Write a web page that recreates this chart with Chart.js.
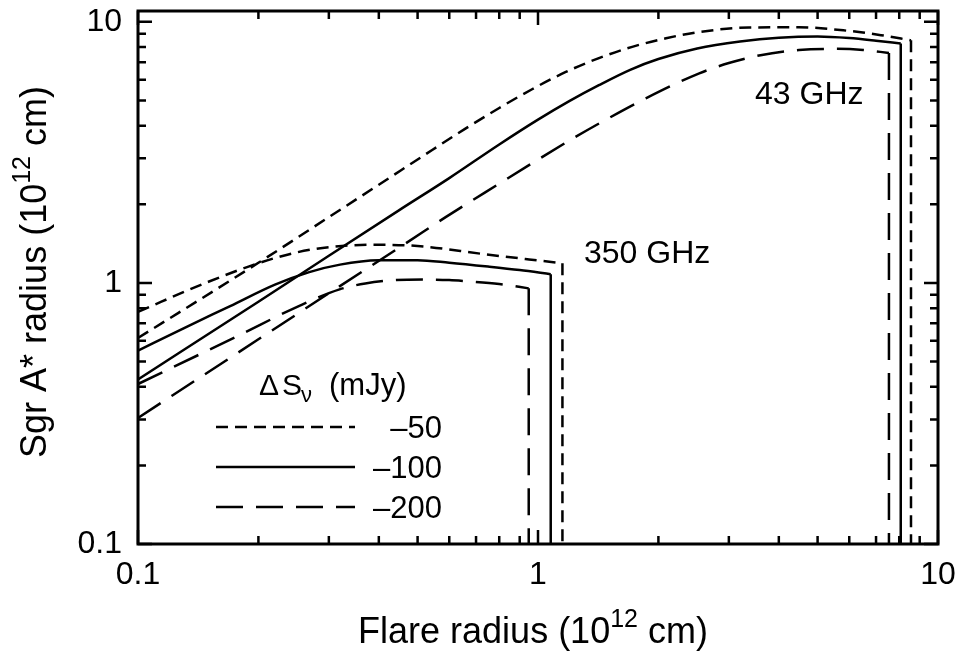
<!DOCTYPE html>
<html><head><meta charset="utf-8">
<script src="https://cdn.jsdelivr.net/npm/chart.js@4"></script>
<style>html,body{margin:0;padding:0;background:#fff}</style>
</head><body>
<canvas id="c" width="958" height="654"></canvas>
<script>
// ---- tick labels ----
const xTickValues = [0.1, 1, 10];
const xTickLabels = ['0.1', '1', '10'];
const yTickValues = [0.1, 1, 10];
const yTickLabels = ['0.1', '1', '10'];
const minorTickValues = [0.2,0.3,0.4,0.5,0.6,0.7,0.8,0.9,2,3,4,5,6,7,8,9];

// ---- legend ----
const seriesNames = ['\u201350', '\u2013100', '\u2013200'];
const legendTitle = ['\u0394', 'S', '\u03bd', '(mJy)'];
const freqLabels = ['43 GHz', '350 GHz'];

// ---- 43 GHz curves ----
const x43a = [0.1, 0.2, 0.3, 0.4, 0.545, 0.66, 0.8, 0.969, 1.17, 1.42, 1.72, 2.09, 2.53, 3.37, 4.49, 5.98, 7.2, 8.56];
const y43a = [0.615, 1.194, 1.786, 2.377, 3.236, 3.908, 4.677, 5.53, 6.41, 7.26, 8.02, 8.65, 9.14, 9.51, 9.53, 9.23, 8.89, 8.49];
const x43b = [0.1, 0.2, 0.3, 0.45, 0.6, 0.8, 1.0, 1.2, 1.42, 1.7, 2.0, 2.5, 3.2, 4.0, 5.0, 6.0, 7.0, 8.07];
const y43b = [0.427, 0.847, 1.27, 1.90, 2.52, 3.39, 4.22, 4.98, 5.72, 6.55, 7.2, 7.90, 8.40, 8.69, 8.79, 8.67, 8.47, 8.26];
const x43c = [0.1, 0.2, 0.319, 0.468, 0.589, 0.8, 1.026, 1.24, 1.5, 1.86, 2.53, 3.0, 3.6, 4.49, 5.5, 6.5, 7.54];
const y43c = [0.304, 0.608, 0.97, 1.42, 1.79, 2.40, 3.04, 3.62, 4.27, 5.09, 6.35, 6.95, 7.45, 7.80, 7.88, 7.80, 7.60];

// ---- 350 GHz curves ----
const x350a = [0.1, 0.15, 0.2, 0.25, 0.3, 0.38, 0.5, 0.73, 0.95, 1.151];
const y350a = [0.775, 1.01, 1.19, 1.31, 1.37, 1.40, 1.385, 1.29, 1.23, 1.19];
const x350b = [0.1, 0.13, 0.17, 0.22, 0.268, 0.32, 0.4, 0.5, 0.6, 0.75, 0.9, 1.076];
const y350b = [0.55, 0.67, 0.815, 0.985, 1.10, 1.175, 1.22, 1.222, 1.195, 1.155, 1.12, 1.08];
const x350c = [0.1, 0.179, 0.25, 0.319, 0.37, 0.44, 0.52, 0.6, 0.66, 0.8, 0.948];
const y350c = [0.41, 0.63, 0.81, 0.945, 0.995, 1.025, 1.03, 1.025, 1.015, 0.99, 0.953];

const yFloor = 0.1;

const dashes = [[12, 7], [], [27, 13]];
const FONT = "'Liberation Sans', Arial, Helvetica, sans-serif";

function pts(xs, ys) { return xs.map((x, i) => ({x: x, y: ys[i]})); }
function dropPts(xs, ys) { const n = xs.length - 1; return [{x: xs[n], y: ys[n]}, {x: xs[n], y: yFloor}]; }

const curves = [
  [x43a, y43a, 0], [x43b, y43b, 1], [x43c, y43c, 2],
  [x350a, y350a, 0], [x350b, y350b, 1], [x350c, y350c, 2]
];
const datasets = [];
curves.forEach(([xs, ys, k]) => {
  datasets.push({label: seriesNames[k], data: pts(xs, ys), borderColor: '#000', borderWidth: 2.5,
    borderDash: dashes[k], pointRadius: 0, showLine: true, fill: false, cubicInterpolationMode: 'monotone'});
  datasets.push({label: seriesNames[k], data: dropPts(xs, ys), borderColor: '#000', borderWidth: 2.5,
    borderDash: dashes[k], pointRadius: 0, showLine: true, fill: false, tension: 0});
});

function noPad(s) { s.paddingLeft = 0; s.paddingRight = 0; s.paddingTop = 0; s.paddingBottom = 0; }

const decor = {
  id: 'decor',
  afterDraw(chart) {
    const ctx = chart.ctx, a = chart.chartArea, xs = chart.scales.x, ys = chart.scales.y;
    ctx.save();
    ctx.strokeStyle = '#000';
    ctx.setLineDash([]);
    ctx.lineWidth = 2.5;
    const drawX = (v, len) => { const p = xs.getPixelForValue(v);
      ctx.beginPath(); ctx.moveTo(p, a.bottom); ctx.lineTo(p, a.bottom - len);
      ctx.moveTo(p, a.top); ctx.lineTo(p, a.top + len); ctx.stroke(); };
    const drawY = (v, len) => { const p = ys.getPixelForValue(v);
      ctx.beginPath(); ctx.moveTo(a.left, p); ctx.lineTo(a.left + len, p);
      ctx.moveTo(a.right, p); ctx.lineTo(a.right - len, p); ctx.stroke(); };
    xTickValues.forEach(v => drawX(v, 14));
    minorTickValues.forEach(v => drawX(v, 8));
    yTickValues.forEach(v => drawY(v, 14));
    minorTickValues.forEach(v => drawY(v, 8));
    ctx.lineWidth = 3;
    ctx.strokeRect(a.left, a.top, a.right - a.left, a.bottom - a.top);

    ctx.fillStyle = '#000';
    ctx.textBaseline = 'alphabetic';
    ctx.textAlign = 'left';
    ctx.font = '32px ' + FONT;
    ctx.fillText(freqLabels[0], 755, 104);
    ctx.fillText(freqLabels[1], 584, 263);

    // legend
    ctx.font = '30px ' + FONT;
    ctx.fillText(legendTitle[0], 259, 395);
    ctx.fillText(legendTitle[1], 282, 395);
    ctx.font = '22px ' + FONT;
    ctx.fillText(legendTitle[2], 301, 402);
    ctx.font = '31px ' + FONT;
    ctx.fillText(legendTitle[3], 329, 395);
    const rows = [427, 467, 507];
    rows.forEach((ry, k) => {
      ctx.lineWidth = 2.5;
      ctx.setLineDash(dashes[k]);
      ctx.beginPath(); ctx.moveTo(216, ry); ctx.lineTo(355, ry); ctx.stroke();
      ctx.setLineDash([]);
      ctx.font = '31px ' + FONT;
      ctx.textAlign = 'right';
      ctx.fillText(seriesNames[k], 442, ry + 11);
    });
    ctx.textAlign = 'left';

    const parts = (main) => [[main + ' (10', 36, 0], ['12', 25, -16], [' cm)', 36, 0]];
    const widthOf = (ps) => ps.reduce((w, [t, size]) => { ctx.font = size + 'px ' + FONT; return w + ctx.measureText(t).width; }, 0);
    const drawTitle = (x0, y0, ps) => {
      let x = x0;
      ps.forEach(([t, size, dy]) => {
        ctx.font = size + 'px ' + FONT;
        ctx.fillText(t, x, y0 + dy);
        x += ctx.measureText(t).width;
      });
    };
    const xt = parts('Flare radius');
    drawTitle(533 - widthOf(xt) / 2, 643, xt);
    const yt = parts('Sgr A* radius');
    ctx.save();
    ctx.translate(46, 272);
    ctx.rotate(-Math.PI / 2);
    drawTitle(-widthOf(yt) / 2, 0, yt);
    ctx.restore();
    ctx.restore();
  }
};

new Chart(document.getElementById('c'), {
  type: 'scatter',
  data: {datasets: datasets},
  options: {
    responsive: false,
    animation: false,
    devicePixelRatio: 1,
    layout: {padding: {top: 11, right: 20, left: 0, bottom: 0}},
    plugins: {legend: {display: false}, tooltip: {enabled: false}},
    scales: {
      x: {
        type: 'logarithmic', min: 0.1, max: 10,
        grid: {display: false, drawTicks: false}, border: {display: false},
        afterFit: s => { s.height = 110; noPad(s); },
        afterBuildTicks: s => { s.ticks = xTickValues.map(v => ({value: v})); },
        ticks: {autoSkip: false, maxRotation: 0, padding: 12, color: '#000',
          font: {family: FONT, size: 32},
          callback: (v, i) => xTickLabels[i]}
      },
      y: {
        type: 'logarithmic', min: 0.1, max: 11,
        grid: {display: false, drawTicks: false}, border: {display: false},
        afterFit: s => { s.width = 138; noPad(s); },
        afterBuildTicks: s => { s.ticks = yTickValues.map(v => ({value: v})); },
        ticks: {autoSkip: false, padding: 16, color: '#000',
          font: {family: FONT, size: 32},
          callback: (v, i) => yTickLabels[i]}
      }
    }
  },
  plugins: [decor]
});
</script>
</body></html>
